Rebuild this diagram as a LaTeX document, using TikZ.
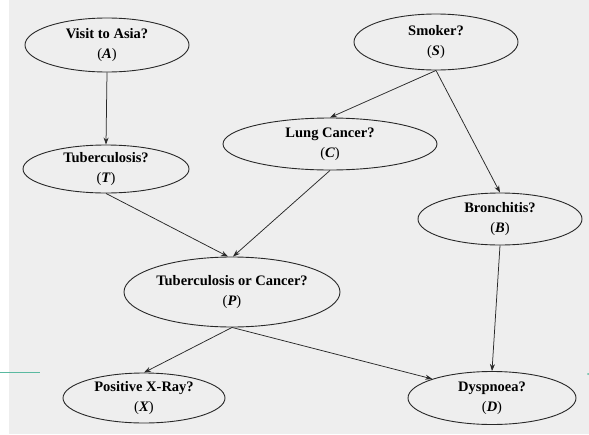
\documentclass[tikz,border=0pt]{standalone}
\usepackage{fontspec}
\setmainfont{Liberation Serif}
\usetikzlibrary{shapes.geometric,arrows.meta}
\definecolor{paper}{RGB}{238,238,238}
\definecolor{ink}{RGB}{40,40,40}
\definecolor{tealmark}{RGB}{90,185,160}
\tikzset{
  var/.style={ellipse, draw=ink, line width=0.9pt, fill=paper, inner sep=0pt,
    minimum width=2*#1, align=center, font=\fontsize{14.5}{20.5}\selectfont},
  var/.default=82pt,
  link/.style={draw=ink, line width=0.75pt, -{Stealth[length=7pt,width=5pt]}},
}
\newcommand{\lbl}[2]{\textbf{#1}\\(\textit{\textbf{#2}})}
\begin{document}
\begin{tikzpicture}[x=1pt,y=-1pt]
  % page
  \fill[white] (0,0) rectangle (589,434);
  \fill[paper] (9,0) rectangle (589,434);
  \useasboundingbox (0,0) rectangle (589,434);
  % margin marks
  \draw[tealmark, line width=1pt] (0,372) -- (40,372);
  \fill[tealmark] (588,374) circle (1pt);

  % variables
  \node[var, minimum height=54pt] (A) at (107,45) {\lbl{Visit to Asia?}{A}};
  \node[var, minimum height=56pt] (S) at (436,42) {\lbl{Smoker?}{S}};
  \node[var=107pt, minimum height=52pt] (C) at (330,144) {\lbl{Lung Cancer?}{C}};
  \node[var=83pt, minimum height=48pt] (T) at (106,169) {\lbl{Tuberculosis?}{T}};
  \node[var, minimum height=52pt] (B) at (500,219) {\lbl{Bronchitis?}{B}};
  \node[var=108pt, minimum height=70pt] (P) at (232,292) {\lbl{Tuberculosis or Cancer?}{P}};
  \node[var=81pt, minimum height=50pt] (X) at (144,398) {\lbl{Positive X-Ray?}{X}};
  \node[var=84pt, minimum height=53pt] (D) at (492,398) {\lbl{Dyspnoea?}{D}};

  % dependencies
  \draw[link] (A.south) -- (T.north);
  \draw[link] (S.south) -- (C.north);
  \draw[link] (S.south) -- (B.north);
  \draw[link] (T.south) -- ([xshift=-4pt]P.north);
  \draw[link] (C.south) -- ([xshift=1pt]P.north);
  \draw[link] (P.south) -- (X.north);
  \draw[link] (P.south) -- (D.north west);
  \draw[link] (B.south) -- (D.north);
\end{tikzpicture}
\end{document}
